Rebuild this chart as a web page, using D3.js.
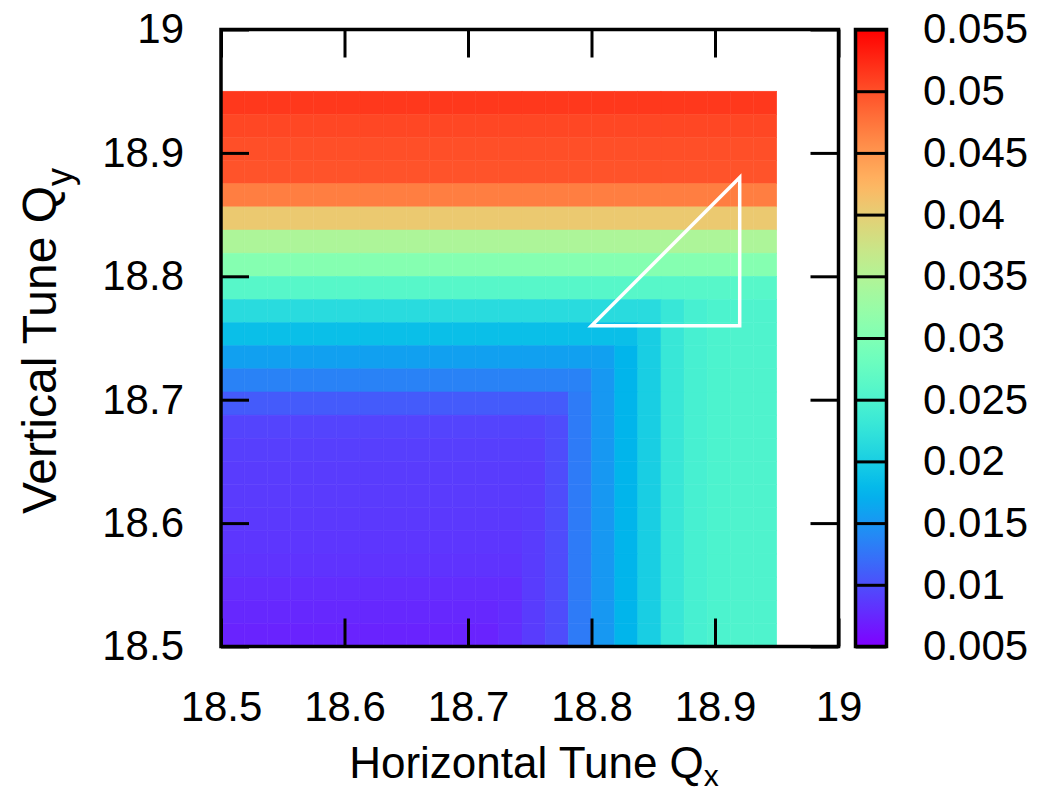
<!DOCTYPE html>
<html><head><meta charset="utf-8">
<script src="https://cdn.jsdelivr.net/npm/d3@7"></script>
<style>
body{margin:0;background:#fff}
svg{display:block}
text{font-family:"Liberation Sans",Arial,Helvetica,sans-serif;fill:#000}
</style></head>
<body><svg id="c" width="1041" height="795"></svg>
<script>
// ---- data ----
const qx = [18.5,18.51875,18.5375,18.55625,18.575,18.59375,18.6125,18.63125,18.65,18.66875,18.6875,18.70625,
            18.725,18.74375,18.7625,18.78125,18.8,18.81875,18.8375,18.85625,18.875,18.89375,18.9125,18.93125];
const qy = [18.5,18.51875,18.5375,18.55625,18.575,18.59375,18.6125,18.63125,18.65,18.66875,18.6875,18.70625,
            18.725,18.74375,18.7625,18.78125,18.8,18.81875,18.8375,18.85625,18.875,18.89375,18.9125,18.93125];
const cellSize = 0.01875;
// rows listed from top (qy = 18.93125) to bottom (qy = 18.5)
const zRows = [
[0.0515,0.0515,0.0515,0.0515,0.0515,0.0515,0.0515,0.0515,0.0515,0.0515,0.0515,0.0515,0.0515,0.0515,0.0515,0.0515,0.0515,0.0515,0.0515,0.0515,0.0515,0.0515,0.0515,0.0515],
[0.0505,0.0505,0.0505,0.0505,0.0505,0.0505,0.0505,0.0505,0.0505,0.0505,0.0505,0.0505,0.0505,0.0505,0.0505,0.0505,0.0505,0.0505,0.0505,0.0505,0.0505,0.0505,0.0505,0.0505],
[0.0500,0.0500,0.0500,0.0500,0.0500,0.0500,0.0500,0.0500,0.0500,0.0500,0.0500,0.0500,0.0500,0.0500,0.0500,0.0500,0.0500,0.0500,0.0500,0.0500,0.0500,0.0500,0.0500,0.0500],
[0.0497,0.0497,0.0497,0.0497,0.0497,0.0497,0.0497,0.0497,0.0497,0.0497,0.0497,0.0497,0.0497,0.0497,0.0497,0.0497,0.0497,0.0497,0.0497,0.0497,0.0497,0.0497,0.0497,0.0497],
[0.0468,0.0468,0.0468,0.0468,0.0468,0.0468,0.0468,0.0468,0.0468,0.0468,0.0468,0.0468,0.0468,0.0468,0.0468,0.0468,0.0468,0.0468,0.0468,0.0468,0.0468,0.0468,0.0468,0.0468],
[0.0405,0.0405,0.0405,0.0405,0.0405,0.0405,0.0405,0.0405,0.0405,0.0405,0.0405,0.0405,0.0405,0.0405,0.0405,0.0405,0.0405,0.0405,0.0405,0.0405,0.0405,0.0405,0.0405,0.0405],
[0.0345,0.0345,0.0345,0.0345,0.0345,0.0345,0.0345,0.0345,0.0345,0.0345,0.0345,0.0345,0.0345,0.0345,0.0345,0.0345,0.0345,0.0345,0.0345,0.0345,0.0345,0.0345,0.0345,0.0345],
[0.0305,0.0305,0.0305,0.0305,0.0305,0.0305,0.0305,0.0305,0.0305,0.0305,0.0305,0.0305,0.0305,0.0305,0.0305,0.0305,0.0305,0.0305,0.0305,0.0305,0.0305,0.0305,0.0305,0.0305],
[0.0260,0.0260,0.0260,0.0260,0.0260,0.0260,0.0260,0.0260,0.0260,0.0260,0.0260,0.0260,0.0260,0.0260,0.0260,0.0260,0.0260,0.0260,0.0260,0.0260,0.0260,0.0260,0.0260,0.0260],
[0.0215,0.0215,0.0215,0.0215,0.0215,0.0215,0.0215,0.0215,0.0215,0.0215,0.0215,0.0215,0.0215,0.0215,0.0215,0.0215,0.0215,0.0215,0.0215,0.0230,0.0245,0.0250,0.0252,0.0252],
[0.0185,0.0185,0.0185,0.0185,0.0185,0.0185,0.0185,0.0185,0.0185,0.0185,0.0185,0.0185,0.0185,0.0185,0.0185,0.0185,0.0185,0.0185,0.0200,0.0230,0.0245,0.0250,0.0252,0.0252],
[0.0158,0.0158,0.0158,0.0158,0.0158,0.0158,0.0158,0.0158,0.0158,0.0158,0.0158,0.0158,0.0158,0.0158,0.0158,0.0158,0.0158,0.0176,0.0200,0.0230,0.0245,0.0250,0.0252,0.0252],
[0.0135,0.0135,0.0135,0.0135,0.0135,0.0135,0.0135,0.0135,0.0135,0.0135,0.0135,0.0135,0.0135,0.0135,0.0135,0.0135,0.0152,0.0176,0.0200,0.0230,0.0245,0.0250,0.0252,0.0252],
[0.0108,0.0108,0.0108,0.0108,0.0108,0.0108,0.0108,0.0108,0.0108,0.0108,0.0108,0.0108,0.0108,0.0108,0.0108,0.0130,0.0152,0.0176,0.0200,0.0230,0.0245,0.0250,0.0252,0.0252],
[0.0093,0.0093,0.0093,0.0093,0.0093,0.0093,0.0093,0.0093,0.0093,0.0093,0.0093,0.0093,0.0093,0.0093,0.0098,0.0130,0.0152,0.0176,0.0200,0.0230,0.0245,0.0250,0.0252,0.0252],
[0.0090,0.0090,0.0090,0.0090,0.0090,0.0090,0.0090,0.0090,0.0090,0.0090,0.0090,0.0090,0.0090,0.0090,0.0098,0.0130,0.0152,0.0176,0.0200,0.0230,0.0245,0.0250,0.0252,0.0252],
[0.0088,0.0088,0.0088,0.0088,0.0088,0.0088,0.0088,0.0088,0.0088,0.0088,0.0088,0.0088,0.0088,0.0088,0.0098,0.0130,0.0152,0.0176,0.0200,0.0230,0.0245,0.0250,0.0252,0.0252],
[0.0087,0.0087,0.0087,0.0087,0.0087,0.0087,0.0087,0.0087,0.0087,0.0087,0.0087,0.0087,0.0087,0.0088,0.0098,0.0130,0.0152,0.0176,0.0200,0.0230,0.0245,0.0250,0.0252,0.0252],
[0.0086,0.0086,0.0086,0.0086,0.0086,0.0086,0.0086,0.0086,0.0086,0.0086,0.0086,0.0086,0.0086,0.0088,0.0098,0.0130,0.0152,0.0176,0.0200,0.0230,0.0245,0.0250,0.0252,0.0252],
[0.0084,0.0084,0.0084,0.0084,0.0084,0.0084,0.0084,0.0084,0.0084,0.0084,0.0084,0.0084,0.0084,0.0088,0.0098,0.0130,0.0152,0.0176,0.0200,0.0230,0.0245,0.0250,0.0252,0.0252],
[0.0082,0.0082,0.0082,0.0082,0.0082,0.0082,0.0082,0.0082,0.0082,0.0082,0.0082,0.0082,0.0082,0.0088,0.0098,0.0130,0.0152,0.0176,0.0200,0.0230,0.0245,0.0250,0.0252,0.0252],
[0.0078,0.0078,0.0078,0.0078,0.0078,0.0078,0.0078,0.0078,0.0078,0.0078,0.0078,0.0078,0.0078,0.0088,0.0098,0.0130,0.0152,0.0176,0.0200,0.0230,0.0245,0.0250,0.0252,0.0252],
[0.0075,0.0075,0.0075,0.0075,0.0075,0.0075,0.0075,0.0075,0.0075,0.0075,0.0075,0.0075,0.0078,0.0088,0.0098,0.0130,0.0152,0.0176,0.0200,0.0230,0.0245,0.0250,0.0252,0.0252],
[0.0072,0.0072,0.0072,0.0072,0.0072,0.0072,0.0072,0.0072,0.0072,0.0072,0.0072,0.0072,0.0078,0.0088,0.0098,0.0130,0.0152,0.0176,0.0200,0.0230,0.0245,0.0250,0.0252,0.0252]
];
const triangleQx = [18.8, 18.92, 18.92];
const triangleQy = [18.76, 18.76, 18.88];

const xTicks = [18.5,18.6,18.7,18.8,18.9,19];
const xTickLabels = ["18.5","18.6","18.7","18.8","18.9","19"];
const yTicks = [18.5,18.6,18.7,18.8,18.9,19];
const yTickLabels = ["18.5","18.6","18.7","18.8","18.9","19"];
const cbTicks = [0.005,0.01,0.015,0.02,0.025,0.03,0.035,0.04,0.045,0.05,0.055];
const cbTickLabels = ["0.005","0.01","0.015","0.02","0.025","0.03","0.035","0.04","0.045","0.05","0.055"];
const xTitle = "Horizontal Tune Q", xSub = "x";
const yTitle = "Vertical Tune Q", ySub = "y";

// ---- drawing ----
const svg = d3.select("#c");
const L = 221, R = 838.5, T = 29.5, B = 646.5;
const x = d3.scaleLinear().domain([18.5,19]).range([L,R]);
const y = d3.scaleLinear().domain([18.5,19]).range([B,T]);
const cz = d3.scaleLinear().domain([0.005,0.055]).range([0,1]).clamp(true);
function rainbow(t){
  const r = Math.min(1, Math.abs(2*t-0.5));
  const g = Math.max(0, Math.sin(Math.PI*t));
  const b = Math.max(0, Math.cos(Math.PI*t/2));
  return d3.rgb(r*255, g*255, b*255).formatHex();
}
const color = v => rainbow(cz(v));

const cells = [];
zRows.forEach((row, r) => {
  const yy = qy[qy.length-1-r];
  row.forEach((v, i) => cells.push({qx: qx[i], qy: yy, v}));
});
svg.append("g").selectAll("rect").data(cells).join("rect")
  .attr("x", d => x(d.qx))
  .attr("y", d => y(d.qy + cellSize))
  .attr("width", d => x(d.qx + cellSize) - x(d.qx))
  .attr("height", d => y(d.qy) - y(d.qy + cellSize))
  .attr("fill", d => color(d.v))
  .attr("stroke", d => color(d.v))
  .attr("stroke-width", 0.5);

// triangle
const triPts = triangleQx.map((v,i) => [v, triangleQy[i]]);
svg.append("path")
  .attr("d", d3.line().x(d => x(d[0])).y(d => y(d[1]))(triPts) + "Z")
  .attr("fill", "none").attr("stroke", "#fff").attr("stroke-width", 3.5)
  .attr("stroke-linejoin", "miter");

function styleAxis(g, fs){
  g.attr("font-size", null).attr("font-family", null);
  g.select(".domain").remove();
  g.selectAll(".tick line").attr("stroke", "#000").attr("stroke-width", 3);
  g.selectAll(".tick text").attr("font-size", fs).attr("fill", "#000");
}
const tickLen = 28;
svg.append("g").attr("transform", `translate(0,${B})`)
  .call(d3.axisBottom(x).tickValues(xTicks).tickFormat((d,i)=>xTickLabels[i]).tickSize(-tickLen).tickPadding(45))
  .call(g => styleAxis(g, 42));
svg.append("g").attr("transform", `translate(0,${T})`)
  .call(d3.axisTop(x).tickValues(xTicks).tickFormat("").tickSize(-tickLen))
  .call(g => styleAxis(g, 42));
svg.append("g").attr("transform", `translate(${L},0)`)
  .call(d3.axisLeft(y).tickValues(yTicks).tickFormat((d,i)=>yTickLabels[i]).tickSize(-tickLen).tickPadding(37))
  .call(g => styleAxis(g, 42));
svg.append("g").attr("transform", `translate(${R},0)`)
  .call(d3.axisRight(y).tickValues(yTicks).tickFormat("").tickSize(-tickLen))
  .call(g => styleAxis(g, 42));

svg.append("rect").attr("x", L).attr("y", T).attr("width", R-L).attr("height", B-T)
  .attr("fill", "none").attr("stroke", "#000").attr("stroke-width", 3.5);

// colorbar
const cbX = 855.5, cbW = 31;
const cy = d3.scaleLinear().domain([0.005,0.055]).range([B,T]);
const grad = svg.append("defs").append("linearGradient").attr("id","cbg")
  .attr("x1",0).attr("y1",1).attr("x2",0).attr("y2",0);
d3.range(0, 1.0001, 0.02).forEach(t => grad.append("stop").attr("offset", t).attr("stop-color", rainbow(t)));
svg.append("rect").attr("x", cbX).attr("y", T).attr("width", cbW).attr("height", B-T)
  .attr("fill", "url(#cbg)");
svg.append("g").attr("transform", `translate(${cbX},0)`)
  .call(d3.axisRight(cy).tickValues(cbTicks).tickFormat((d,i)=>cbTickLabels[i]).tickSize(cbW).tickPadding(36.5))
  .call(g => styleAxis(g, 42));
svg.append("rect").attr("x", cbX).attr("y", T).attr("width", cbW).attr("height", B-T)
  .attr("fill", "none").attr("stroke", "#000").attr("stroke-width", 3.5);

// titles
const xt = svg.append("text").attr("x", 534).attr("y", 778).attr("text-anchor","middle").attr("font-size", 44);
xt.append("tspan").text(xTitle);
xt.append("tspan").attr("font-size", 30).attr("dy", 8).text(xSub);

const yt = svg.append("text").attr("transform", "translate(56,341) rotate(-90)").attr("text-anchor","middle").attr("font-size", 48);
yt.append("tspan").text(yTitle);
yt.append("tspan").attr("font-size", 36).attr("dy", 16).text(ySub);
</script></body></html>
